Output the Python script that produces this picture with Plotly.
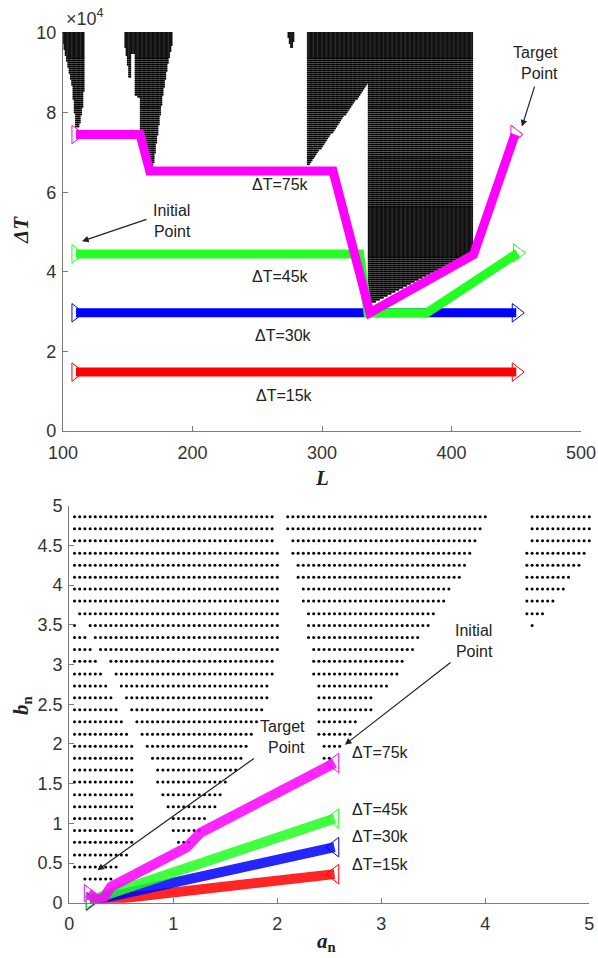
import numpy as np
import plotly.graph_objects as go

W, H = 598, 958


def px_x(p):
    return p / W


def px_y(p):
    return (H - p) / H


# ---------------- Top panel data (L, dT) ----------------
# Black feasible-region blocks, described by their outline polygons
regionA_L = [100, 117, 117, 115, 112.5, 110, 107, 102.5, 100]
regionA_T = [100250, 100250, 89000, 81000, 76500, 76500, 87000, 93500, 97500]
regionB_L = [148, 185, 185, 181, 177, 173.5, 170.5, 169.5, 168, 159.5, 159.5,
             155.5, 155.5, 153, 152.5, 151, 150, 148]
regionB_T = [100250, 100250, 98000, 92000, 84000, 75500, 68500, 65500, 65500,
             76000, 83500, 84500, 94500, 95000, 89000, 88500, 92000, 96500]
regionC_L = [273, 279, 277.5, 275.5]
regionC_T = [100250, 100250, 96500, 96500]
regionD_L = [289, 417, 417, 336, 336, 289]
regionD_T = [100250, 100250, 45000, 31500, 87500, 66500]
grid_L = np.arange(100, 501, 1.0)
grid_T = np.arange(0, 100001, 500.0)

# Trajectories
path75_L = [110, 159.5, 167, 308.5, 337, 417, 449]
path75_T = [74500, 74500, 65300, 65300, 29700, 44300, 74500]
path45_L = [110, 329, 335.5, 381, 451]
path45_T = [44500, 44500, 29700, 29700, 44700]
path30_L = [110, 450]
path30_T = [29700, 29700]
path15_L = [110, 450]
path15_T = [14800, 14800]

# ---------------- Bottom panel data (a_n, b_n) ----------------
dot_rows_b = [4.86, 4.71, 4.56, 4.40, 4.25, 4.10, 3.95, 3.80, 3.64, 3.49,
              3.34, 3.19, 3.04, 2.88, 2.73, 2.58, 2.43, 2.28, 2.12, 1.97,
              1.82, 1.67, 1.52, 1.36, 1.21, 1.06, 0.91, 0.76, 0.60, 0.45, 0.30]
segA = [None]*9 + [(0.05, 0.05), (0.05, 0.15), (0.05, 0.20), (0.05, 0.25),
                   (0.05, 0.30), (0.05, 0.35), (0.05, 0.40), (0.05, 0.45),
                   (0.05, 0.50), (0.05, 0.55), (0.05, 0.60), (0.05, 0.60),
                   (0.05, 0.60), (0.05, 0.60), (0.05, 0.60), (0.05, 0.60),
                   (0.05, 0.60), (0.05, 0.60), (0.05, 0.60), (0.05, 0.55),
                   (0.05, 0.45), (0.15, 0.40)]
segB = [(0.05, 1.95), (0.05, 1.95), (0.05, 1.95), (0.05, 2.00), (0.05, 2.00),
        (0.05, 2.00), (0.05, 2.00), (0.05, 2.00), (0.10, 2.00), (0.20, 2.00),
        (0.25, 2.00), (0.30, 2.00), (0.40, 1.95), (0.45, 1.95), (0.50, 1.90),
        (0.55, 1.90), (0.60, 1.85), (0.65, 1.80), (0.70, 1.75), (0.75, 1.70),
        (0.80, 1.65), (0.85, 1.60), (0.85, 1.50), (0.90, 1.45), (0.95, 1.40),
        (1.00, 1.30), (1.00, 1.25), (1.05, 1.15), None, None, None]
segC = [(2.10, 4.00), (2.10, 3.95), (2.15, 3.90), (2.15, 3.85), (2.20, 3.80),
        (2.20, 3.75), (2.25, 3.65), (2.25, 3.60), (2.30, 3.50), (2.30, 3.45),
        (2.30, 3.35), (2.35, 3.30), (2.35, 3.20), (2.35, 3.15), (2.40, 3.05),
        (2.40, 2.90), (2.40, 2.90), (2.40, 2.75), (2.40, 2.70), (2.45, 2.60),
        (2.45, 2.50)] + [None]*10
segD = [(4.45, 5.00), (4.45, 5.00), (4.45, 5.00), (4.40, 4.95), (4.40, 4.90),
        (4.40, 4.80), (4.40, 4.75), (4.40, 4.65), (4.40, 4.55), (4.45, 4.45)] + [None]*21
a_step = 0.05

traj75_a = [0.18, 0.26, 0.33, 0.40, 1.13, 1.26, 2.55]
traj75_b = [0.12, 0.04, 0.06, 0.20, 0.70, 0.88, 1.76]
traj45_a = [0.20, 2.55]
traj45_b = [0.03, 1.06]
traj30_a = [0.20, 2.55]
traj30_b = [0.02, 0.70]
traj15_a = [0.20, 2.55]
traj15_b = [0.01, 0.36]

COL = {'75': '#FF00FF', '45': '#22FF22', '30': '#0000FF', '15': '#FF0000'}


def inside(px, py, vx, vy):
    res = np.zeros(px.shape, bool)
    n = len(vx)
    j = n - 1
    for i in range(n):
        xi, yi, xj, yj = vx[i], vy[i], vx[j], vy[j]
        if yi != yj:
            cond = ((yi > py) != (yj > py)) & (px < (xj - xi) * (py - yi) / (yj - yi) + xi)
            res ^= cond
        j = i
    return res


GL, GT = np.meshgrid(grid_L, grid_T)
GL = GL.ravel(); GT = GT.ravel()
mask = np.zeros(GL.shape, bool)
for vx, vy in [(regionA_L, regionA_T), (regionB_L, regionB_T),
               (regionC_L, regionC_T), (regionD_L, regionD_T)]:
    mask |= inside(GL, GT, vx, vy)
top_x = GL[mask]; top_y = GT[mask]

bx, by = [], []
for i, b in enumerate(dot_rows_b):
    for seg in (segA[i], segB[i], segC[i], segD[i]):
        if seg is None:
            continue
        xs = np.arange(seg[0], seg[1] + 1e-6, a_step)
        bx.extend(xs.tolist()); by.extend([b]*len(xs))

fig = go.Figure()
fig.add_trace(go.Scatter(x=top_x, y=top_y, mode='markers', xaxis='x', yaxis='y',
                         marker=dict(size=2.0, color='black'), cliponaxis=False,
                         hoverinfo='skip'))
fig.add_trace(go.Scatter(x=bx, y=by, mode='markers', xaxis='x2', yaxis='y2',
                         marker=dict(size=3, color='black'), cliponaxis=False,
                         hoverinfo='skip'))

top_paths = [('15', path15_L, path15_T), ('30', path30_L, path30_T),
             ('45', path45_L, path45_T), ('75', path75_L, path75_T)]
for k, xs, ys in top_paths:
    fig.add_trace(go.Scatter(x=xs, y=ys, mode='lines', xaxis='x', yaxis='y',
                             line=dict(color=COL[k], width=9)))
    fig.add_trace(go.Scatter(x=[xs[0], xs[-1]], y=[ys[0], ys[-1]], mode='markers',
                             xaxis='x', yaxis='y', cliponaxis=False,
                             marker=dict(symbol='triangle-right-open', size=16,
                                         color=COL[k], line=dict(width=1))))

bot_paths = [('15', traj15_a, traj15_b), ('30', traj30_a, traj30_b),
             ('45', traj45_a, traj45_b), ('75', traj75_a, traj75_b)]
for k, xs, ys in bot_paths:
    fig.add_trace(go.Scatter(x=xs, y=ys, mode='lines', xaxis='x2', yaxis='y2',
                             line=dict(color=COL[k], width=10), opacity=0.85))
    fig.add_trace(go.Scatter(x=[xs[0]], y=[ys[0]], mode='markers',
                             xaxis='x2', yaxis='y2', cliponaxis=False,
                             marker=dict(symbol='triangle-right-open', size=15,
                                         color=COL[k], line=dict(width=1))))
    fig.add_trace(go.Scatter(x=[xs[-1]], y=[ys[-1]], mode='markers',
                             xaxis='x2', yaxis='y2', cliponaxis=False,
                             marker=dict(symbol='triangle-left-open', size=17,
                                         color=COL[k], line=dict(width=1))))

AX = dict(showline=True, linecolor='#7a7a7a', linewidth=1.3, ticks='inside',
          ticklen=5, tickcolor='#7a7a7a', showgrid=False, zeroline=False,
          mirror=False, automargin=False,
          tickfont=dict(family='Liberation Sans, Arial', size=18, color='#333333'))

fig.update_layout(
    width=W, height=H, margin=dict(l=0, r=0, t=0, b=0, autoexpand=False),
    paper_bgcolor='white', plot_bgcolor='white', showlegend=False,
    xaxis=dict(AX, domain=[px_x(63), px_x(581)], anchor='y', range=[100, 500],
               tickvals=[100, 200, 300, 400, 500], ticklabelstandoff=5),
    yaxis=dict(AX, domain=[px_y(431), px_y(33)], anchor='x', range=[0, 100000],
               tickvals=[0, 20000, 40000, 60000, 80000, 100000],
               ticktext=['0', '2', '4', '6', '8', '10'], ticklabelstandoff=2),
    xaxis2=dict(AX, domain=[px_x(69.3), px_x(589.3)], anchor='y2', range=[0, 5],
                tickvals=[0, 1, 2, 3, 4, 5], ticklabelstandoff=5),
    yaxis2=dict(AX, domain=[px_y(902.7), px_y(505.7)], anchor='x2', range=[0, 5],
                tickvals=[0, 0.5, 1, 1.5, 2, 2.5, 3, 3.5, 4, 4.5, 5],
                ticktext=['0', '0.5', '1', '1.5', '2', '2.5', '3', '3.5', '4', '4.5', '5'],
                ticklabelstandoff=2),
)

TF = dict(family='Liberation Sans, Arial', size=16, color='#222222')
ann = []
# Top labels
for txt, L, T in [('ΔT=75k', 268, 61900), ('ΔT=45k', 268, 38900),
                  ('ΔT=30k', 270, 24000), ('ΔT=15k', 271, 8800)]:
    ann.append(dict(x=L, y=T, xref='x', yref='y', text=txt, showarrow=False,
                    font=TF, xanchor='center', yanchor='middle'))
ann.append(dict(x=200.5, y=52800, xref='x', yref='y', text='Initial<br>Point',
                showarrow=False, font=TF, xanchor='right', yanchor='middle', align='right'))
ann.append(dict(x=484, y=92400, xref='x', yref='y', text='Target<br>Point',
                showarrow=False, font=TF, xanchor='right', yanchor='middle', align='right'))
ann.append(dict(x=114.7, y=47700, ax=165.6, ay=53300, xref='x', yref='y', axref='x', ayref='y',
                text='', showarrow=True, arrowhead=2, arrowsize=1.1, arrowwidth=1.2,
                arrowcolor='#222222'))
ann.append(dict(x=454.4, y=76500, ax=464.5, ay=86900, xref='x', yref='y', axref='x', ayref='y',
                text='', showarrow=True, arrowhead=2, arrowsize=1.1, arrowwidth=1.2,
                arrowcolor='#222222'))
# Bottom labels
for txt, b in [('ΔT=75k', 1.89), ('ΔT=45k', 1.18), ('ΔT=30k', 0.83), ('ΔT=15k', 0.48)]:
    ann.append(dict(x=2.70, y=b, xref='x2', yref='y2', text=txt, showarrow=False,
                    font=TF, xanchor='left', yanchor='middle'))
ann.append(dict(x=4.09, y=3.30, xref='x2', yref='y2', text='Initial<br>Point',
                showarrow=False, font=TF, xanchor='right', yanchor='middle', align='right'))
ann.append(dict(x=2.29, y=2.09, xref='x2', yref='y2', text='Target<br>Point',
                showarrow=False, font=TF, xanchor='right', yanchor='middle', align='right'))
ann.append(dict(x=2.65, y=1.99, ax=3.68, ay=3.04, xref='x2', yref='y2', axref='x2', ayref='y2',
                text='', showarrow=True, arrowhead=2, arrowsize=1.1, arrowwidth=1.2,
                arrowcolor='#222222'))
ann.append(dict(x=0.27, y=0.41, ax=1.79, ay=1.83, xref='x2', yref='y2', axref='x2', ayref='y2',
                text='', showarrow=True, arrowhead=2, arrowsize=1.1, arrowwidth=1.2,
                arrowcolor='#222222'))
# Axis titles and exponent
SF = dict(family='Liberation Serif, Times New Roman', size=21, color='#222222')
ann.append(dict(x=px_x(322), y=px_y(478), xref='paper', yref='paper', text='<b><i>L</i></b>',
                showarrow=False, font=SF, xanchor='center', yanchor='middle'))
ann.append(dict(x=px_x(21), y=px_y(230), xref='paper', yref='paper', text='<b><i>ΔT</i></b>',
                showarrow=False, font=SF, xanchor='center', yanchor='middle', textangle=-90))
ann.append(dict(x=px_x(326), y=px_y(942), xref='paper', yref='paper',
                text='<b><i>a</i></b><sub><b>n</b></sub>',
                showarrow=False, font=SF, xanchor='center', yanchor='middle'))
ann.append(dict(x=px_x(22), y=px_y(706), xref='paper', yref='paper',
                text='<b><i>b</i></b><sub><b>n</b></sub>',
                showarrow=False, font=SF, xanchor='center', yanchor='middle', textangle=-90))
ann.append(dict(x=px_x(64), y=px_y(18), xref='paper', yref='paper', text='×10<sup>4</sup>',
                showarrow=False, font=dict(family='Liberation Sans, Arial', size=18, color='#333333'),
                xanchor='left', yanchor='middle'))
fig.update_layout(annotations=ann)

fig.write_html('out.html', config={'displayModeBar': False},
               post_script="document.body.style.margin='0';"
                           "document.documentElement.style.overflow='hidden';")
